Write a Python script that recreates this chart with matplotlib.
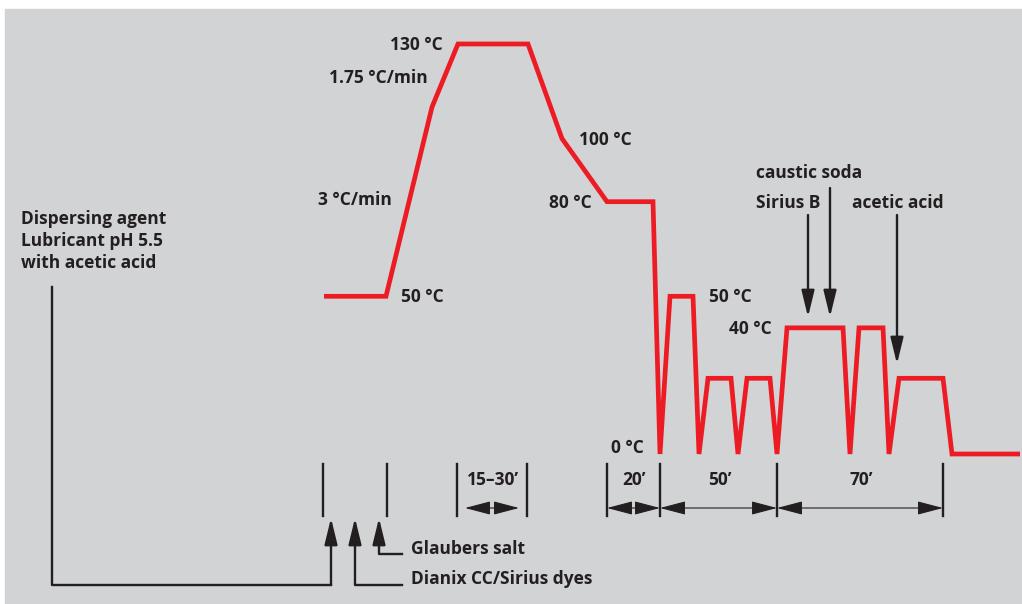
import matplotlib.pyplot as plt

# dyeing profile: x = time position along the chart, y = temperature in °C
profile_x = [324, 386, 432, 458, 528, 562, 607, 653, 660, 670, 693, 699, 708,
             731, 738, 747, 770, 777, 787, 843, 850, 859, 883, 889, 899, 943,
             952, 1020]
profile_t = [50, 50, 110, 130, 130, 100, 80, 80, 0, 50, 50, 0, 24,
             24, 0, 24, 24, 0, 40, 40, 0, 40, 40, 0, 24, 24,
             0, 0]

# time intervals shown under the profile
interval_edges = [(457, 527), (607, 660), (660, 777), (777, 943)]
interval_labels = ['15–30’', '20’', '50’', '70’']

# dosing ticks and additions
dose_ticks = [323, 387]
additions = ['Dispersing agent\nLubricant pH 5.5\nwith acetic acid',
             'Dianix CC/Sirius dyes', 'Glaubers salt']
late_additions = ['Sirius B', 'caustic soda', 'acetic acid']

RED = '#ed1c24'
INK = '#231f20'
BG = '#d1d3d4'
FONT = 'Open Sans'
FS = 12.5

fig = plt.figure(figsize=(10.22, 6.04), dpi=100)
fig.patch.set_facecolor('white')

# pixel layout axes
ax = fig.add_axes([0, 0, 1, 1])
ax.set_xlim(0, 1022)
ax.set_ylim(604, 0)
ax.axis('off')
ax.add_patch(plt.Rectangle((5, 9), 1017, 595, color=BG, zorder=0))

# temperature axes over the same area: 0 °C at y=454px, 3.154 px per °C
tax = fig.add_axes([0, 0, 1, 1])
tax.set_xlim(0, 1022)
tax.set_ylim((454 - 604) / 3.154, 454 / 3.154)
tax.axis('off')
tax.patch.set_alpha(0)
tax.plot(profile_x, profile_t, color=RED, lw=3.4, solid_joinstyle='miter',
         solid_capstyle='butt', zorder=3)

txt = dict(fontfamily=FONT, fontweight='bold', fontsize=FS, color=INK)

# temperature / rate labels
ax.text(443, 45, '130 °C', ha='right', va='center', **txt)
ax.text(428, 78, '1.75 °C/min', ha='right', va='center', **txt)
ax.text(392, 200, '3 °C/min', ha='right', va='center', **txt)
ax.text(401, 297, '50 °C', ha='left', va='center', **txt)
ax.text(579, 140, '100 °C', ha='left', va='center', **txt)
ax.text(592, 203, '80 °C', ha='right', va='center', **txt)
ax.text(709, 297, '50 °C', ha='left', va='center', **txt)
ax.text(772, 329, '40 °C', ha='right', va='center', **txt)
ax.text(644, 448, '0 °C', ha='right', va='center', **txt)

head = dict(arrowstyle='-|>,head_length=16,head_width=3.9', mutation_scale=1,
            color=INK, lw=1.7, shrinkA=0, shrinkB=0)
dhead = dict(arrowstyle='<|-|>,head_length=16,head_width=4.2', mutation_scale=1,
             color=INK, lw=0.8, shrinkA=0, shrinkB=0)

# late additions with arrows down to the profile
ax.text(756, 203, late_additions[0], ha='left', va='center', **txt)
ax.text(756, 173, late_additions[1], ha='left', va='center', **txt)
ax.text(852, 203, late_additions[2], ha='left', va='center', **txt)
ax.annotate('', xy=(808, 317), xytext=(808, 215), arrowprops=head)
ax.annotate('', xy=(830, 317), xytext=(830, 188), arrowprops=head)
ax.annotate('', xy=(897, 364), xytext=(897, 215), arrowprops=head)

# interval ticks and double arrows
edges = sorted({e for pair in interval_edges for e in pair})
for x in edges:
    ax.plot([x, x], [464, 516], color=INK, lw=1.7)
for (x0, x1), lab in zip(interval_edges, interval_labels):
    pad = 8 if lab == '15–30’' else 0
    ax.annotate('', xy=(x1 - pad, 508), xytext=(x0 + pad, 508), arrowprops=dhead)
    ax.text((x0 + x1) / 2 + 1, 480, lab, ha='center', va='center', **txt)

# start-of-process dosing
for x in dose_ticks:
    ax.plot([x, x], [464, 516], color=INK, lw=1.7)

lines = additions[0].split('\n')
for i, line in enumerate(lines):
    ax.text(21, 219 + 22 * i, line, ha='left', va='center', **txt)
ax.plot([52, 52, 331], [287, 585, 585], color=INK, lw=1.7)
ax.annotate('', xy=(331, 518), xytext=(331, 585), arrowprops=head)

ax.plot([355, 355, 402], [530, 585, 585], color=INK, lw=1.7)
ax.annotate('', xy=(355, 518), xytext=(355, 540), arrowprops=head)
ax.text(411, 579, additions[1], ha='left', va='center', **txt)

ax.plot([379, 379, 402], [530, 554, 554], color=INK, lw=1.7)
ax.annotate('', xy=(379, 518), xytext=(379, 540), arrowprops=head)
ax.text(411, 549, additions[2], ha='left', va='center', **txt)

fig.savefig('out.png', dpi=100, facecolor=fig.get_facecolor())
